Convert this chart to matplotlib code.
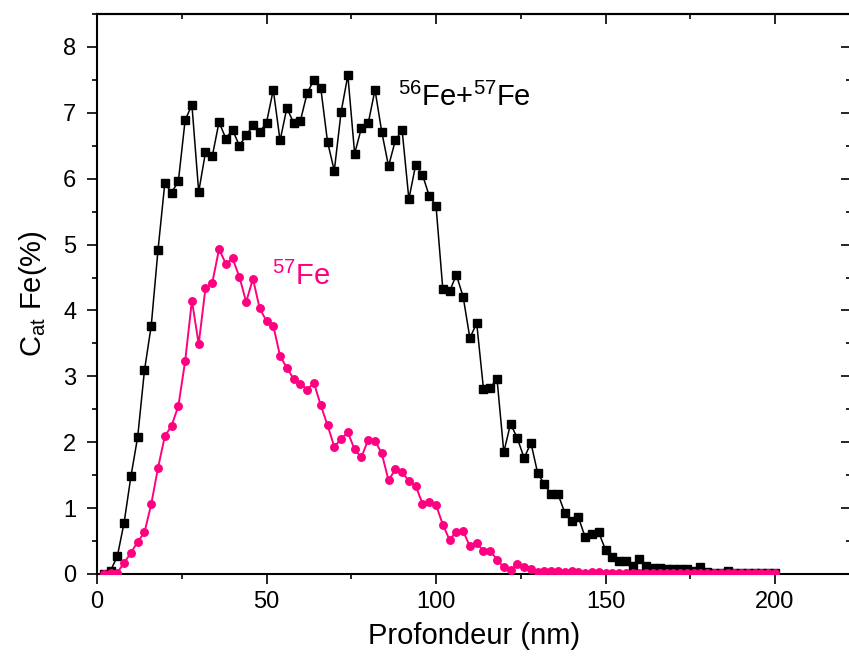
import numpy as np
import matplotlib
matplotlib.use("Agg")
import matplotlib.pyplot as plt
from matplotlib.ticker import MultipleLocator

plt.rcParams['font.family'] = ['Liberation Sans', 'DejaVu Sans']
plt.rcParams['mathtext.fontset'] = 'custom'
plt.rcParams['mathtext.rm'] = 'Liberation Sans'
plt.rcParams['mathtext.it'] = 'Liberation Sans:italic'

# depth grid (nm), one sample every 2 nm
depth = np.arange(1, 101) * 2.0

# total iron, 56Fe + 57Fe (at. %)
fe_total = [
    0.00, 0.05, 0.27, 0.78, 1.48, 2.08, 3.09, 3.77, 4.92, 5.93,
    5.79, 5.96, 6.89, 7.12, 5.80, 6.40, 6.34, 6.86, 6.61, 6.74,
    6.50, 6.66, 6.81, 6.71, 6.85, 7.35, 6.58, 7.07, 6.85, 6.88,
    7.30, 7.50, 7.38, 6.56, 6.12, 7.01, 7.57, 6.38, 6.77, 6.84,
    7.35, 6.71, 6.19, 6.58, 6.74, 5.69, 6.21, 6.06, 5.74, 5.59,
    4.33, 4.29, 4.54, 4.21, 3.58, 3.81, 2.81, 2.83, 2.96, 1.85,
    2.28, 2.06, 1.76, 1.99, 1.53, 1.36, 1.21, 1.21, 0.93, 0.80,
    0.86, 0.56, 0.60, 0.63, 0.37, 0.26, 0.20, 0.20, 0.12, 0.23,
    0.12, 0.09, 0.09, 0.07, 0.07, 0.07, 0.07, 0.05, 0.10, 0.03,
    0.02, 0.02, 0.04, 0.02, 0.01, 0.01, 0.01, 0.01, 0.01, 0.01,
]

# 57Fe only (at. %)
fe57 = [
    0.00, 0.01, 0.02, 0.17, 0.32, 0.49, 0.63, 1.06, 1.61, 2.09,
    2.25, 2.55, 3.23, 4.15, 3.49, 4.34, 4.42, 4.93, 4.71, 4.79,
    4.51, 4.13, 4.48, 4.03, 3.84, 3.77, 3.31, 3.13, 2.96, 2.89,
    2.80, 2.90, 2.56, 2.26, 1.93, 2.05, 2.15, 1.89, 1.77, 2.04,
    2.02, 1.83, 1.42, 1.59, 1.55, 1.41, 1.34, 1.07, 1.10, 1.05,
    0.75, 0.52, 0.64, 0.65, 0.42, 0.47, 0.35, 0.35, 0.22, 0.10,
    0.06, 0.15, 0.10, 0.08, 0.03, 0.04, 0.05, 0.05, 0.03, 0.04,
    0.03, 0.02, 0.03, 0.03, 0.02, 0.01, 0.01, 0.01, 0.01, 0.01,
    0.01, 0.01, 0.01, 0.01, 0.01, 0.01, 0.01, 0.01, 0.01, 0.01,
    0.01, 0.01, 0.01, 0.01, 0.01, 0.01, 0.01, 0.01, 0.01, 0.01,
]

pink = '#FF0080'

W, H = 849, 665
fig = plt.figure(figsize=(W / 100, H / 100), dpi=100)
ax = fig.add_axes([97 / W, 1 - 574 / H, 754 / W, 560 / H])

ax.plot(depth, fe_total, color='black', lw=1.1, marker='s', ms=5.8,
        mfc='black', mec='black', zorder=2)
ax.plot(depth, fe57, color=pink, lw=1.4, marker='o', ms=5.4,
        mfc=pink, mec=pink, zorder=3)

ax.set_xlim(0, 754 / 3.39)
ax.set_ylim(0, 8.5)

ax.xaxis.set_major_locator(MultipleLocator(50))
ax.xaxis.set_minor_locator(MultipleLocator(25))
ax.yaxis.set_major_locator(MultipleLocator(1))
ax.yaxis.set_minor_locator(MultipleLocator(0.5))

for s in ax.spines.values():
    s.set_linewidth(1.5)

ax.tick_params(which='both', direction='out', width=1.2, labelsize=17,
               top=False, right=False)
ax.tick_params(axis='x', which='major', length=7, pad=5)
ax.tick_params(axis='y', which='major', length=7, pad=8)
ax.tick_params(which='minor', length=3.5)

# inward ticks on the top and right frame edges
ax_top = ax.secondary_xaxis('top')
ax_top.xaxis.set_major_locator(MultipleLocator(50))
ax_top.xaxis.set_minor_locator(MultipleLocator(25))
ax_top.tick_params(which='both', direction='in', width=1.2, labeltop=False)
ax_top.tick_params(which='major', length=7)
ax_top.tick_params(which='minor', length=3.5)
ax_top.spines['top'].set_linewidth(1.5)
ax_right = ax.secondary_yaxis('right')
ax_right.yaxis.set_major_locator(MultipleLocator(1))
ax_right.yaxis.set_minor_locator(MultipleLocator(0.5))
ax_right.tick_params(which='both', direction='in', width=1.2, labelright=False)
ax_right.tick_params(which='major', length=7)
ax_right.tick_params(which='minor', length=3.5)

ax.set_xlabel('Profondeur (nm)', fontsize=21, labelpad=7)
ax.set_ylabel(r'C$_{\mathrm{at}}$ Fe(%)', fontsize=21, labelpad=10)

ax.text(88.8, 7.1, r'$^{56}$Fe+$^{57}$Fe', fontsize=21, color='black')
ax.text(51.5, 4.38, r'$^{57}$Fe', fontsize=21, color=pink)

fig.savefig('out.png', dpi=100)
